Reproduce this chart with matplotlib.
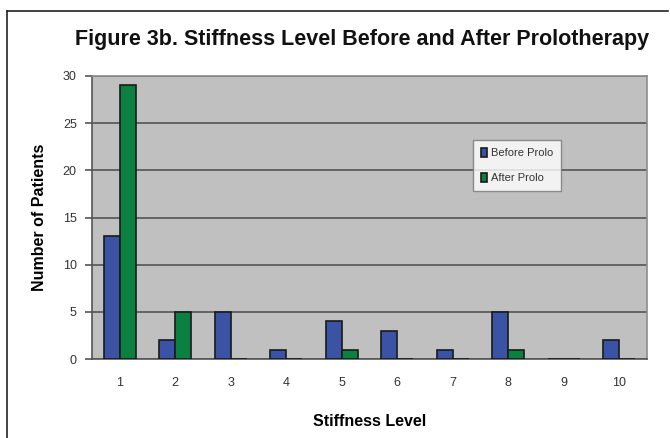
import matplotlib.pyplot as plt
import numpy as np
from matplotlib.lines import Line2D

# data
levels = ['1', '2', '3', '4', '5', '6', '7', '8', '9', '10']
before_prolo = [13, 2, 5, 1, 4, 3, 1, 5, 0, 2]
after_prolo = [29, 5, 0, 0, 1, 0, 0, 1, 0, 0]

plt.rcParams['font.family'] = ['Liberation Sans', 'DejaVu Sans']

W, H = 670, 438
fig = plt.figure(figsize=(W / 100, H / 100), dpi=100)
ax = fig.add_axes([92 / W, 1 - 359 / H, (647 - 92) / W, (359 - 76) / H])
ax.set_facecolor('#c0c0c0')

x = np.arange(len(levels))
bw = 0.29
ax.bar(x - bw / 2, before_prolo, bw, color='#3a53a4', edgecolor='#1a1a1a',
       linewidth=1.2, label='Before Prolo', zorder=3)
ax.bar(x + bw / 2, after_prolo, bw, color='#0c8040', edgecolor='#1a1a1a',
       linewidth=1.2, label='After Prolo', zorder=3)

ax.set_xlim(-0.5, len(levels) - 0.5)
ax.set_ylim(0, 30)
ax.set_yticks(range(0, 31, 5))
ax.set_xticks(x)
ax.set_xticklabels(levels)
ax.yaxis.grid(True, color='#555555', linewidth=1.2, zorder=0)
ax.set_axisbelow(True)

for s in ['top', 'right']:
    ax.spines[s].set_color('#8c8c8c')
    ax.spines[s].set_linewidth(1.2)
for s in ['left', 'bottom']:
    ax.spines[s].set_color('#555555')
    ax.spines[s].set_linewidth(1.2)

ax.tick_params(axis='y', colors='#555555', labelsize=9, length=5, width=1.2,
               direction='out', pad=6)
ax.tick_params(axis='x', colors='#555555', labelsize=9, length=0, pad=13)
for lbl in ax.get_xticklabels() + ax.get_yticklabels():
    lbl.set_color('#333333')

ax.set_xlabel('Stiffness Level', fontsize=11.5, fontweight='bold', labelpad=18)
ax.set_ylabel('Number of Patients', fontsize=11.5, fontweight='bold', labelpad=11)

fig.text(362 / W, 1 - 40 / H,
         'Figure 3b. Stiffness Level Before and After Prolotherapy',
         ha='center', va='center', fontsize=15.5, fontweight='bold', color='#111111')

leg = ax.legend(loc='upper left', bbox_to_anchor=((473 - 92) / 555, (359 - 140) / 283),
                fontsize=8, frameon=True, fancybox=False, handlelength=0.6,
                handleheight=0.9, handletextpad=0.3, borderpad=0.7,
                labelspacing=1.3, borderaxespad=0)
leg.get_frame().set_edgecolor('#777777')
leg.get_frame().set_facecolor('white')
leg.get_frame().set_linewidth(1.0)
for t in leg.get_texts():
    t.set_color('#333333')

# outer frame (top and left sides visible in the original)
fig.add_artist(Line2D([7 / W, 668 / W], [1 - 11 / H, 1 - 11 / H],
                      transform=fig.transFigure, color='#222222', linewidth=1.2))
fig.add_artist(Line2D([7 / W, 7 / W], [1 - 11 / H, 0],
                      transform=fig.transFigure, color='#222222', linewidth=1.2))

fig.savefig('out.png', dpi=100)
